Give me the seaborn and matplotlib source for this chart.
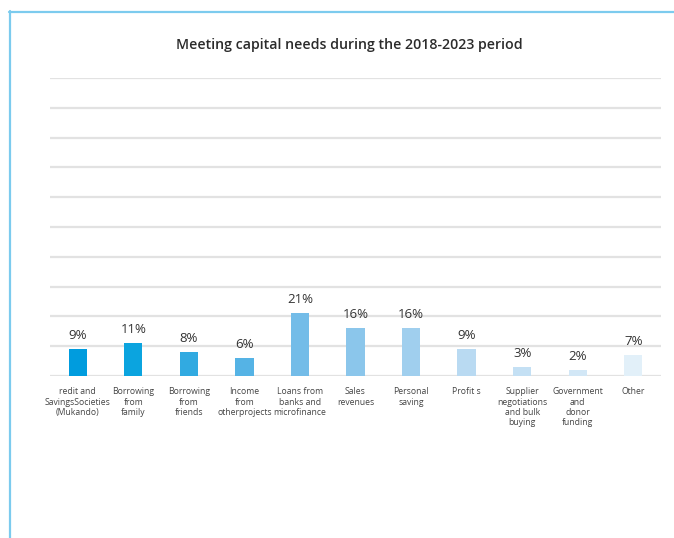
import matplotlib
matplotlib.use("Agg")
import matplotlib.pyplot as plt
from matplotlib.lines import Line2D
import seaborn as sns
import pandas as pd

categories = [
    "redit and\nSavingsSocieties\n(Mukando)",
    "Borrowing\nfrom\nfamily",
    "Borrowing\nfrom\nfriends",
    "Income\nfrom\notherprojects",
    "Loans from\nbanks and\nmicrofinance",
    "Sales\nrevenues",
    "Personal\nsaving",
    "Profit s",
    "Supplier\nnegotiations\nand bulk\nbuying",
    "Government\nand\ndonor\nfunding",
    "Other",
]
shares = [9, 11, 8, 6, 21, 16, 16, 9, 3, 2, 7]
bar_colors = [
    "#009CDE", "#0BA4DF", "#31AAE1", "#55B3E5", "#73BCE8", "#8BC6EB",
    "#A0CFEE", "#B9DAF2", "#C4E0F4", "#D2E7F6", "#E2F0F9",
]
title = "Meeting capital needs during the 2018-2023 period"

sns.set_theme(style="white")
plt.rcParams["font.family"] = ["Open Sans", "DejaVu Sans"]

df = pd.DataFrame({"source": categories, "share": shares})

fig = plt.figure(figsize=(6.74, 5.38), dpi=100)
fig.patch.set_facecolor("white")
ax = fig.add_axes([50 / 674, 1 - 376 / 538, 611 / 674, 298 / 538])

sns.barplot(data=df, x="source", y="share", hue="source", palette=bar_colors,
            legend=False, width=0.33, ax=ax, saturation=1, linewidth=0,
            edgecolor="none")

ax.set_ylim(0, 100)
ax.set_xlim(-0.5, len(categories) - 0.5)
ax.set_yticks(range(0, 101, 10))
ax.yaxis.grid(True, color="#E2E2E2", linewidth=1.6)
ax.set_axisbelow(True)
ax.tick_params(axis="y", left=False, labelleft=False)
ax.tick_params(axis="x", length=0, pad=8, labelsize=6.2, labelcolor="#444444")
for lbl in ax.get_xticklabels():
    lbl.set_linespacing(1.2)
for s in ax.spines.values():
    s.set_visible(False)
ax.set_xlabel("")
ax.set_ylabel("")

for cont in ax.containers:
    ax.bar_label(cont, fmt="{:.0f}%", padding=5, fontsize=9.5, color="#333333")

fig.text(349 / 674, 1 - 45 / 538, title, ha="center", va="center",
         fontsize=10.2, fontweight="semibold", color="#2B2B2B")

# light blue panel frame on the left and top
border = "#7CCBEE"
fig.add_artist(Line2D([9.5 / 674, 9.5 / 674], [0, 1 - 11 / 538],
                      transform=fig.transFigure, color=border, lw=1.6))
fig.add_artist(Line2D([9 / 674, 1], [1 - 11.5 / 538, 1 - 11.5 / 538],
                      transform=fig.transFigure, color=border, lw=1.6))

fig.savefig("out.png", dpi=100, facecolor="white")
